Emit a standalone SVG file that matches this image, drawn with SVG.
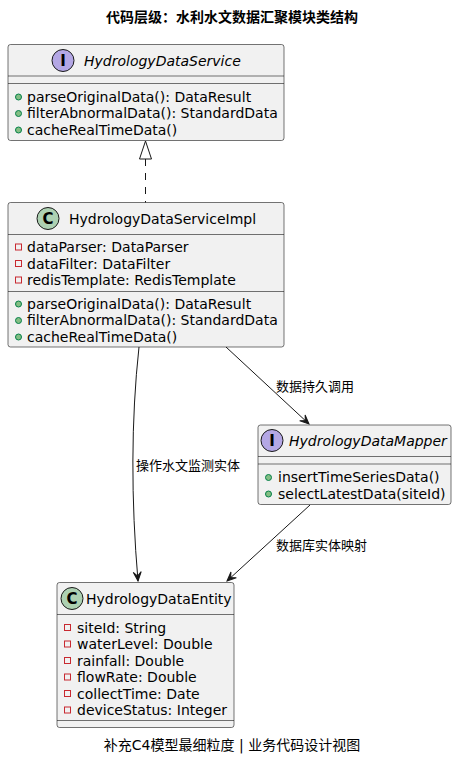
<svg xmlns="http://www.w3.org/2000/svg" width="465" height="761" viewBox="0 0 465 761">
<defs>
<style>
.box{fill:#F1F1F1;stroke:#181818;stroke-width:0.6}
.div{stroke:#181818;stroke-width:0.6}
.t{font-family:"DejaVu Sans","Noto Sans CJK SC",sans-serif;font-size:14px;fill:#000}
.it{font-style:italic}
.lbl{font-family:"DejaVu Sans","Noto Sans CJK SC",sans-serif;font-size:13px;fill:#000}
.ttl{font-family:"DejaVu Sans","Noto Sans CJK SC",sans-serif;font-size:14px;font-weight:bold;fill:#000}
.pub{fill:#84BE84;stroke:#038048;stroke-width:1}
.priv{fill:none;stroke:#C82930;stroke-width:1}
.cc{fill:#ADD1B2;stroke:#181818;stroke-width:1}
.ci{fill:#B4A7E5;stroke:#181818;stroke-width:1}
.sym{font-family:"DejaVu Sans",sans-serif;font-size:15px;font-weight:bold;fill:#000}
.edge{fill:none;stroke:#181818;stroke-width:1}
</style>
<marker id="arr" viewBox="-10 -6 12 12" refX="0" refY="0" markerWidth="12" markerHeight="12" markerUnits="userSpaceOnUse" orient="auto">
<path d="M0,0 L-9,-4 L-5,0 L-9,4 Z" fill="#181818" stroke="#181818" stroke-width="1"/>
</marker>
</defs>
<rect width="465" height="761" fill="#FFFFFF"/>
<text class="ttl" x="232" y="22" text-anchor="middle">代码层级：水利水文数据汇聚模块类结构</text>

<g id="connectors">
<path class="edge" d="M145.5,159 L145.5,203" stroke-dasharray="7,7"/>
<polygon points="145.5,141 139.5,159 151.5,159" fill="#FFFFFF" stroke="#181818" stroke-width="1"/>
<path class="edge" d="M139,347 C131,420 131,500 138,581" marker-end="url(#arr)"/>
<text class="lbl" x="136" y="470">操作水文监测实体</text>
<path class="edge" d="M226,347 L309,424" marker-end="url(#arr)"/>
<text class="lbl" x="276" y="391">数据持久调用</text>
<path class="edge" d="M310,505 L227,581" marker-end="url(#arr)"/>
<text class="lbl" x="276" y="550">数据库实体映射</text>
</g>

<g id="HydrologyDataService">
<rect class="box" x="8" y="44.5" width="276" height="96" rx="2.5"/>
<circle class="ci" cx="63" cy="60.5" r="11"/>
<text class="sym" x="63" y="66" text-anchor="middle">I</text>
<text class="t it" x="84" y="66">HydrologyDataService</text>
<line class="div" x1="8" y1="76" x2="284" y2="76"/>
<line class="div" x1="8" y1="83.5" x2="284" y2="83.5"/>
<circle class="pub" cx="18.5" cy="97" r="3"/>
<text class="t" x="27" y="101.5">parseOriginalData(): DataResult</text>
<circle class="pub" cx="18.5" cy="113.5" r="3"/>
<text class="t" x="27" y="118">filterAbnormalData(): StandardData</text>
<circle class="pub" cx="18.5" cy="130" r="3"/>
<text class="t" x="27" y="134.5">cacheRealTimeData()</text>
</g>

<g id="HydrologyDataServiceImpl">
<rect class="box" x="8" y="202.5" width="276" height="144.5" rx="2.5"/>
<circle class="cc" cx="48" cy="218.5" r="11"/>
<text class="sym" x="48" y="224" text-anchor="middle">C</text>
<text class="t" x="69" y="223.5">HydrologyDataServiceImpl</text>
<line class="div" x1="8" y1="234.5" x2="284" y2="234.5"/>
<rect class="priv" x="15.5" y="244" width="6" height="6"/>
<text class="t" x="27" y="252">dataParser: DataParser</text>
<rect class="priv" x="15.5" y="260.5" width="6" height="6"/>
<text class="t" x="27" y="268.5">dataFilter: DataFilter</text>
<rect class="priv" x="15.5" y="277" width="6" height="6"/>
<text class="t" x="27" y="285">redisTemplate: RedisTemplate</text>
<line class="div" x1="8" y1="291.5" x2="284" y2="291.5"/>
<circle class="pub" cx="18.5" cy="304" r="3"/>
<text class="t" x="27" y="308.5">parseOriginalData(): DataResult</text>
<circle class="pub" cx="18.5" cy="320.5" r="3"/>
<text class="t" x="27" y="325">filterAbnormalData(): StandardData</text>
<circle class="pub" cx="18.5" cy="337" r="3"/>
<text class="t" x="27" y="341.5">cacheRealTimeData()</text>
</g>

<g id="HydrologyDataMapper">
<rect class="box" x="258" y="425" width="193" height="79.5" rx="2.5"/>
<circle class="ci" cx="272" cy="440.5" r="11"/>
<text class="sym" x="272" y="446" text-anchor="middle">I</text>
<text class="t it" x="289" y="445.5">HydrologyDataMapper</text>
<line class="div" x1="258" y1="456.5" x2="451" y2="456.5"/>
<line class="div" x1="258" y1="464" x2="451" y2="464"/>
<circle class="pub" cx="268.5" cy="477.5" r="3"/>
<text class="t" x="278" y="482">insertTimeSeriesData()</text>
<circle class="pub" cx="268.5" cy="494" r="3"/>
<text class="t" x="278" y="498.5">selectLatestData(siteId)</text>
</g>

<g id="HydrologyDataEntity">
<rect class="box" x="57" y="582.5" width="177" height="145" rx="2.5"/>
<circle class="cc" cx="72" cy="598.5" r="11"/>
<text class="sym" x="72" y="604" text-anchor="middle">C</text>
<text class="t" x="86" y="603.5">HydrologyDataEntity</text>
<line class="div" x1="57" y1="614.5" x2="234" y2="614.5"/>
<rect class="priv" x="64.5" y="624.5" width="6" height="6"/>
<text class="t" x="77" y="632.5">siteId: String</text>
<rect class="priv" x="64.5" y="641" width="6" height="6"/>
<text class="t" x="77" y="649">waterLevel: Double</text>
<rect class="priv" x="64.5" y="657.5" width="6" height="6"/>
<text class="t" x="77" y="665.5">rainfall: Double</text>
<rect class="priv" x="64.5" y="674" width="6" height="6"/>
<text class="t" x="77" y="682">flowRate: Double</text>
<rect class="priv" x="64.5" y="690.5" width="6" height="6"/>
<text class="t" x="77" y="698.5">collectTime: Date</text>
<rect class="priv" x="64.5" y="707" width="6" height="6"/>
<text class="t" x="77" y="715">deviceStatus: Integer</text>
<line class="div" x1="57" y1="720.5" x2="234" y2="720.5"/>
</g>

<text class="t" x="232" y="750" text-anchor="middle">补充C4模型最细粒度 | 业务代码设计视图</text>
</svg>
